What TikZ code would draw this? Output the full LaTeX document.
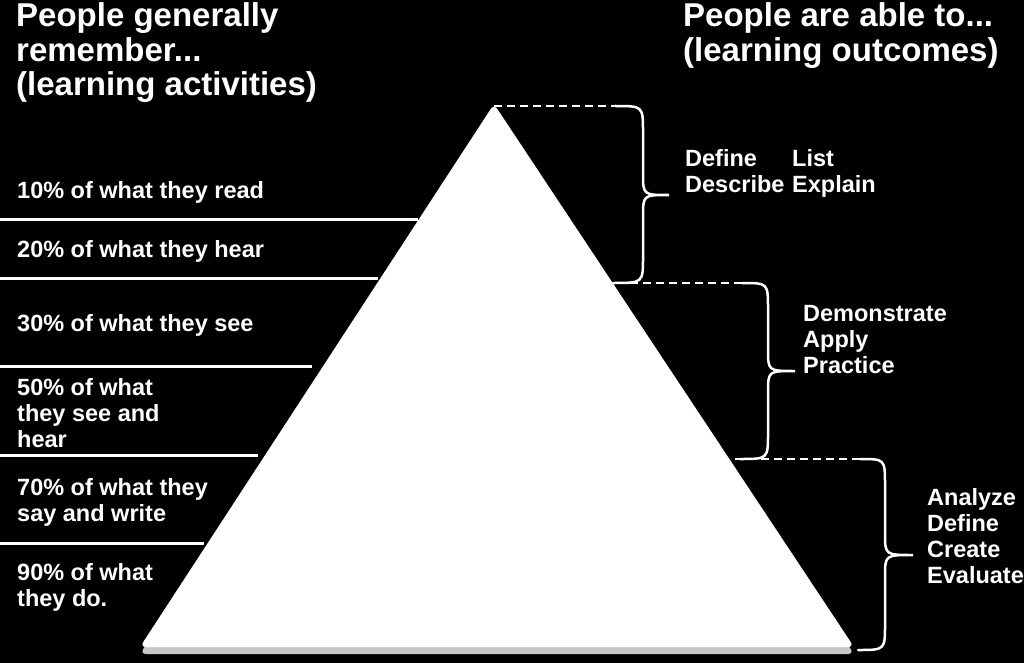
\documentclass[tikz,border=0pt]{standalone}
\usepackage{fontspec}
\setmainfont{Liberation Sans}

\tikzset{
  heading/.style={anchor=base west, inner sep=0pt, text=white, align=left,
    font=\bfseries\fontsize{33}{34.5}\selectfont},
  item/.style={anchor=base west, inner sep=0pt, text=white, align=left,
    font=\bfseries\fontsize{23.5}{26}\selectfont},
  divider/.style={white, line width=3pt},
  dashline/.style={white, line width=2.5pt, dash pattern=on 8pt off 5pt},
  bracket/.style={white, line width=2.5pt, line cap=round},
}

\begin{document}
\begin{tikzpicture}[x=1pt, y=-1pt]
    % black page, 1024 x 663
    \useasboundingbox (0,0) rectangle (1024,663);
    \fill[black] (0,0) rectangle (1024,663);

    % lines between the activities
    \foreach \y/\x in {219/418, 278/378, 366/312, 455/258, 543/204}
        \draw[divider] (0,\y) -- (\x,\y);

    % the pyramid, with a soft shadow under it
    \fill[gray!45, rounded corners=6pt] (494,110) -- (140,654) -- (854,654) -- cycle;
    \fill[white, rounded corners=6pt] (494,104) -- (140,647) -- (854,647) -- cycle;
    \coordinate (apex) at (494,106);
    \coordinate (edge1) at (617,283);
    \coordinate (edge2) at (735,459);

    % dashed guides to the braces
    \coordinate (hook1) at (615,106);
    \coordinate (hook2) at (742,283);
    \coordinate (hook3) at (860,459);
    \draw[dashline] (apex) -- (hook1);
    \draw[dashline] (edge1) -- (hook2);
    \draw[dashline] (edge2) -- (hook3);

    % braces: hook x / stem x / tip x / top / middle / bottom
    \foreach \xs/\xv/\xt/\yt/\ym/\yb in {615/643/669/106/195/283,
                                          742/768/795/283/371/459,
                                          860/885/913/459/555/650}
        \draw[bracket] (\xs,\yt) .. controls (\xv,\yt) .. (\xv,\yt+26)
            -- (\xv,\ym-22) .. controls (\xv,\ym) .. (\xt,\ym)
            .. controls (\xv,\ym) .. (\xv,\ym+22)
            -- (\xv,\yb-26) .. controls (\xv,\yb) .. (\xs-2,\yb);

    % headings (base = last line)
    \node[heading] (remember) at (16,96) {People generally\\remember...\\(learning activities)};
    \node[heading] (able) at (683,61.5) {People are able to...\\(learning outcomes)};

    % learning activities
    \node[item] (read) at (17,198) {10\% of what they read};
    \node[item] (hear) at (17,257) {20\% of what they hear};
    \node[item] (see) at (17,331) {30\% of what they see};
    \node[item] (seehear) at (17,447) {50\% of what\\they see and\\hear};
    \node[item] (say) at (17,521) {70\% of what they\\say and write};
    \node[item] (do) at (17,606) {90\% of what\\they do.};

    % learning outcomes
    \node[item] (define) at (685,193) {Define\\Describe};
    \node[item] (list) at (792,193) {List\\Explain};
    \node[item] (apply) at (803,373) {Demonstrate\\Apply\\Practice};
    \node[item] (analyze) at (927,583) {Analyze\\Define\\Create\\Evaluate};
\end{tikzpicture}
\end{document}
